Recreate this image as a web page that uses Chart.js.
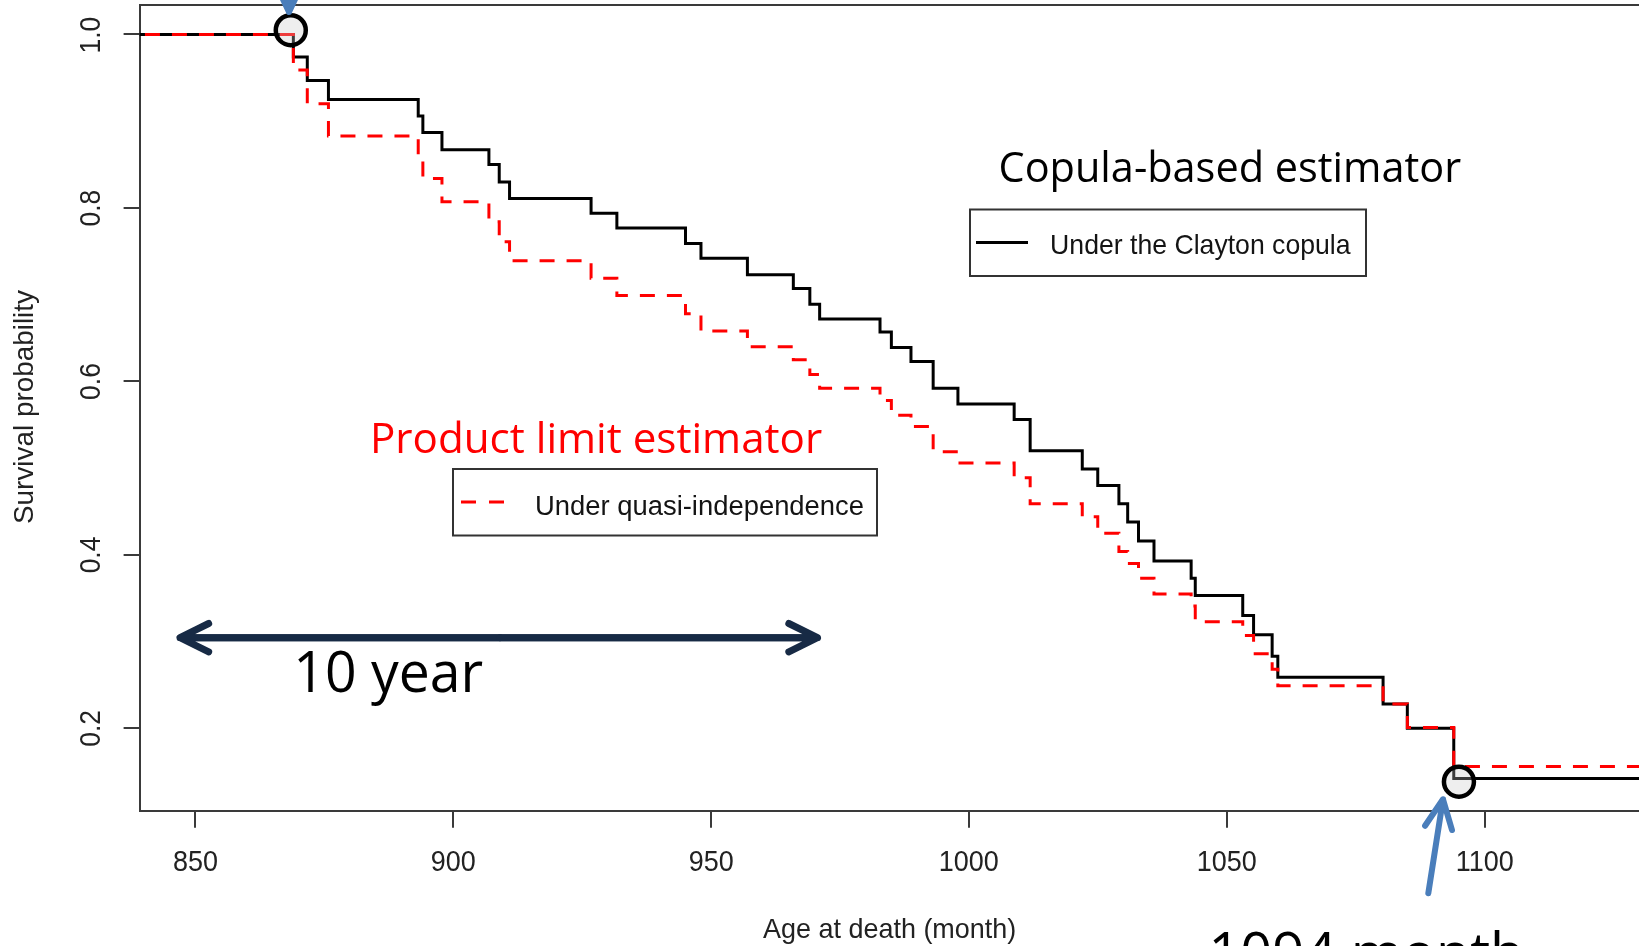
<!DOCTYPE html>
<html>
<head>
<meta charset="utf-8">
<script src="https://cdn.jsdelivr.net/npm/chart.js@4.4.1/dist/chart.umd.min.js"></script>
<style>
  html, body { margin: 0; padding: 0; background: #fff; overflow: hidden; }
  canvas { display: block; }
</style>
</head>
<body>
<canvas id="kmChart" width="1639" height="946"></canvas>
<script>
// event times (months) and survival after each event
const eventTimes = [869.0, 871.7, 875.8, 893.2, 894.1, 897.8, 906.9, 908.9, 910.9, 926.7,
                    931.7, 945.0, 948.0, 957.0, 965.9, 969.1, 971.0, 982.7, 984.9, 988.7,
                    993.0, 997.8, 1008.7, 1011.8, 1021.9, 1024.9, 1029.0, 1030.7, 1032.8, 1035.8,
                    1043.0, 1043.8, 1053.0, 1055.1, 1058.7, 1059.8, 1080.2, 1084.9, 1093.9];
const claytonSurv = [0.974, 0.947, 0.925, 0.906, 0.887, 0.867, 0.850, 0.830, 0.811, 0.794,
                     0.777, 0.759, 0.742, 0.723, 0.707, 0.689, 0.672, 0.657, 0.639, 0.623,
                     0.592, 0.574, 0.556, 0.520, 0.499, 0.480, 0.459, 0.438, 0.416, 0.393,
                     0.373, 0.353, 0.330, 0.308, 0.283, 0.259, 0.228, 0.200, 0.142];
const quasiSurv = [0.959, 0.920, 0.883, 0.857, 0.834, 0.807, 0.784, 0.761, 0.739, 0.719,
                   0.699, 0.678, 0.658, 0.640, 0.625, 0.608, 0.592, 0.578, 0.561, 0.548,
                   0.519, 0.506, 0.489, 0.459, 0.444, 0.425, 0.404, 0.390, 0.373, 0.355,
                   0.341, 0.323, 0.307, 0.286, 0.268, 0.249, 0.228, 0.201, 0.156];
const startTime = 835;
const endTime = 1140;

const xTicks = [850, 900, 950, 1000, 1050, 1100];
const xTickLabels = ['850', '900', '950', '1000', '1050', '1100'];
const yTicks = [0.2, 0.4, 0.6, 0.8, 1.0];
const yTickLabels = ['0.2', '0.4', '0.6', '0.8', '1.0'];

const xTitle = 'Age at death (month)';
const yTitle = 'Survival probability';
const claytonLabel = 'Under the Clayton copula';
const quasiLabel = 'Under quasi-independence';

const rFont = '"Liberation Sans", Arial, sans-serif';
const slideFont = '"Open Sans", "Noto Sans", sans-serif';

function stepPoints(times, surv) {
    const pts = [{ x: startTime, y: 1 }];
    times.forEach((t, i) => pts.push({ x: t, y: surv[i] }));
    pts.push({ x: endTime, y: surv[surv.length - 1] });
    return pts;
}

// draw text so its ink spans [left, right]
function fitInk(ctx, text, left, right, baseline) {
    ctx.textAlign = 'left';
    ctx.textBaseline = 'alphabetic';
    const m = ctx.measureText(text);
    const ink = m.actualBoundingBoxLeft + m.actualBoundingBoxRight;
    const sx = (right - left) / ink;
    ctx.save();
    ctx.translate(left, baseline);
    ctx.scale(sx, 1);
    ctx.fillText(text, m.actualBoundingBoxLeft, 0);
    ctx.restore();
}

// draw text centred (by ink) on cx, squeezed by sx
function centerInk(ctx, text, cx, baseline, sx) {
    ctx.textAlign = 'left';
    ctx.textBaseline = 'alphabetic';
    const m = ctx.measureText(text);
    const mid = (m.actualBoundingBoxRight - m.actualBoundingBoxLeft) / 2;
    ctx.save();
    ctx.translate(cx, baseline);
    ctx.scale(sx, 1);
    ctx.fillText(text, -mid, 0);
    ctx.restore();
}

function arrow(ctx, x1, y1, x2, y2, color, width, headLen, headAngle) {
    const a = Math.atan2(y2 - y1, x2 - x1);
    ctx.save();
    ctx.strokeStyle = color;
    ctx.lineWidth = width;
    ctx.lineCap = 'round';
    ctx.lineJoin = 'round';
    ctx.beginPath();
    ctx.moveTo(x1, y1);
    ctx.lineTo(x2, y2);
    ctx.moveTo(x2 - headLen * Math.cos(a - headAngle), y2 - headLen * Math.sin(a - headAngle));
    ctx.lineTo(x2, y2);
    ctx.lineTo(x2 - headLen * Math.cos(a + headAngle), y2 - headLen * Math.sin(a + headAngle));
    ctx.stroke();
    ctx.restore();
}

const kmOverlay = {
    id: 'kmOverlay',
    afterDatasetsDraw(chart) {
        const ctx = chart.ctx;
        const xs = chart.scales.x, ys = chart.scales.y;
        // circles marking first death and 1094 month
        [[868.5, 1.005], [1094.9, 0.1385]].forEach(([vx, vy]) => {
            ctx.save();
            ctx.beginPath();
            ctx.arc(xs.getPixelForValue(vx), ys.getPixelForValue(vy), 15, 0, Math.PI * 2);
            ctx.fillStyle = 'rgba(200,200,200,0.3)';
            ctx.fill();
            ctx.lineWidth = 4.5;
            ctx.strokeStyle = '#000';
            ctx.stroke();
            ctx.restore();
        });
    },
    afterDraw(chart) {
        const ctx = chart.ctx;
        const area = chart.chartArea;
        const xs = chart.scales.x, ys = chart.scales.y;

        // top of the box
        ctx.save();
        ctx.strokeStyle = '#3a3a3a';
        ctx.lineWidth = 2;
        ctx.beginPath();
        ctx.moveTo(area.left, area.top);
        ctx.lineTo(area.right, area.top);
        ctx.stroke();
        ctx.restore();

        // axis tick labels
        ctx.save();
        ctx.fillStyle = '#222';
        ctx.font = '29px ' + rFont;
        xTicks.forEach((v, i) => centerInk(ctx, xTickLabels[i], xs.getPixelForValue(v), 871, 0.93));
        ctx.font = '30px ' + rFont;
        yTicks.forEach((v, i) => {
            ctx.save();
            ctx.translate(100, ys.getPixelForValue(v));
            ctx.rotate(-Math.PI / 2);
            centerInk(ctx, yTickLabels[i], 0, 0, 0.88);
            ctx.restore();
        });
        // axis titles
        ctx.font = '28px ' + rFont;
        fitInk(ctx, xTitle, 763, 1015, 938);
        ctx.save();
        ctx.translate(33.3, 523);
        ctx.rotate(-Math.PI / 2);
        fitInk(ctx, yTitle, 0, 233, 0);
        ctx.restore();
        ctx.restore();

        // legend boxes
        ctx.save();
        ctx.fillStyle = '#fff';
        ctx.strokeStyle = '#333';
        ctx.lineWidth = 2;
        ctx.fillRect(970, 209.5, 396, 66.5);
        ctx.strokeRect(970, 209.5, 396, 66.5);
        ctx.fillRect(453, 469, 424, 66.5);
        ctx.strokeRect(453, 469, 424, 66.5);
        ctx.lineWidth = 3;
        ctx.strokeStyle = '#000';
        ctx.beginPath();
        ctx.moveTo(976, 242.5);
        ctx.lineTo(1028, 242.5);
        ctx.stroke();
        ctx.strokeStyle = '#ff0000';
        ctx.setLineDash([15, 13]);
        ctx.beginPath();
        ctx.moveTo(461, 502);
        ctx.lineTo(504, 502);
        ctx.stroke();
        ctx.setLineDash([]);
        ctx.fillStyle = '#141414';
        ctx.font = '28px ' + rFont;
        fitInk(ctx, claytonLabel, 1052, 1351, 254);
        ctx.font = '27px ' + rFont;
        fitInk(ctx, quasiLabel, 537, 863, 515);
        ctx.restore();

        // slide annotations
        ctx.save();
        ctx.fillStyle = '#000';
        ctx.font = '42px ' + slideFont;
        fitInk(ctx, 'Copula-based estimator', 1000.5, 1461, 181.7);
        ctx.fillStyle = '#ff0000';
        fitInk(ctx, 'Product limit estimator', 374, 822, 452.7);
        ctx.fillStyle = '#000';
        ctx.font = '56px ' + slideFont;
        fitInk(ctx, '10 year', 298.3, 483.3, 691.7);
        fitInk(ctx, '1094 month', 1213.4, 1520, 973);
        ctx.restore();

        // arrows
        const navy = '#172a45';
        ctx.save();
        ctx.strokeStyle = navy;
        ctx.lineWidth = 7;
        ctx.beginPath();
        ctx.moveTo(181, 637.7);
        ctx.lineTo(816, 637.7);
        ctx.stroke();
        ctx.restore();
        arrow(ctx, 500, 637.7, 180, 637.7, navy, 7, 32, 0.46);
        arrow(ctx, 500, 637.7, 817.5, 637.7, navy, 7, 32, 0.46);
        arrow(ctx, 1428.3, 893.3, 1443, 799.3, '#4a7ebb', 6, 32, 0.44);
        arrow(ctx, 289, -120, 289, 12, '#4a7ebb', 6, 32, 0.44);
    }
};

const chartCtx = document.getElementById('kmChart').getContext('2d');

new Chart(chartCtx, {
    type: 'line',
    data: {
        datasets: [{
            label: claytonLabel,
            data: stepPoints(eventTimes, claytonSurv),
            stepped: true,
            borderColor: '#000',
            borderWidth: 3,
            pointRadius: 0,
            fill: false,
            order: 2
        }, {
            label: quasiLabel,
            data: stepPoints(eventTimes, quasiSurv),
            stepped: true,
            borderColor: '#ff0000',
            borderWidth: 3,
            borderDash: [15, 12],
            pointRadius: 0,
            fill: false,
            order: 1
        }]
    },
    options: {
        responsive: false,
        animation: false,
        devicePixelRatio: 1,
        layout: { padding: { left: 0, right: 0, top: 5, bottom: 0 } },
        plugins: {
            legend: { display: false },
            tooltip: { enabled: false }
        },
        scales: {
            x: {
                type: 'linear',
                min: 839.2,
                max: 1129.8,
                afterBuildTicks: scale => { scale.ticks = xTicks.map(v => ({ value: v })); },
                afterFit: scale => { scale.height = 135.3; },
                ticks: { display: false },
                grid: { drawOnChartArea: false, drawTicks: true, tickLength: 17, color: '#3a3a3a', lineWidth: 2 },
                border: { display: true, color: '#3a3a3a', width: 2 }
            },
            y: {
                type: 'linear',
                min: 0.105,
                max: 1.034,
                afterBuildTicks: scale => { scale.ticks = yTicks.map(v => ({ value: v })); },
                afterFit: scale => { scale.width = 139.6; },
                ticks: { display: false },
                grid: { drawOnChartArea: false, drawTicks: true, tickLength: 16, color: '#3a3a3a', lineWidth: 2 },
                border: { display: true, color: '#3a3a3a', width: 2 }
            }
        }
    },
    plugins: [kmOverlay]
});
</script>
</body>
</html>
